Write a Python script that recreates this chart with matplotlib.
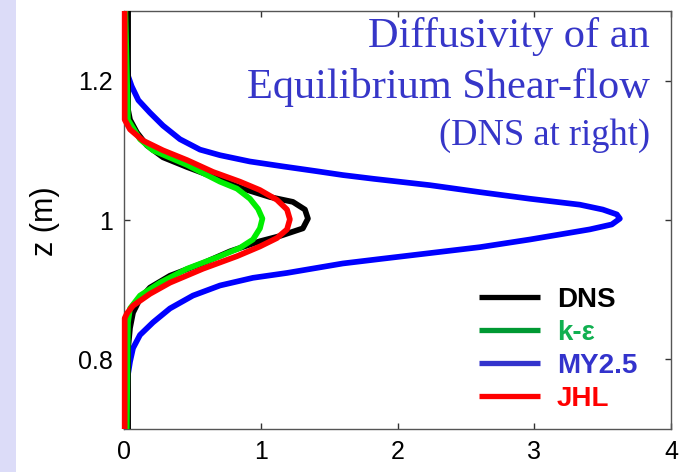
import matplotlib
matplotlib.use("Agg")
import matplotlib.pyplot as plt
from matplotlib.lines import Line2D
from matplotlib.patches import Rectangle

# ---- data (diffusivity vs height) ----
z_dns = [1.30, 1.158, 1.144, 1.1255, 1.107, 1.090, 1.076, 1.062, 1.045, 1.033,
         1.026, 1.015, 1.002, 0.988, 0.977, 0.9695, 0.955, 0.938, 0.920, 0.903,
         0.887, 0.867, 0.845, 0.816, 0.70]
k_dns = [0.03, 0.03, 0.044, 0.095, 0.168, 0.285, 0.461, 0.651, 0.870, 1.067,
         1.235, 1.323, 1.345, 1.308, 1.140, 0.994, 0.775, 0.577, 0.336, 0.190,
         0.117, 0.066, 0.044, 0.03, 0.03]

z_ke = [1.30, 1.144, 1.116, 1.100, 1.079, 1.055, 1.045, 1.0305, 1.016, 1.002,
        0.988, 0.972, 0.960, 0.948, 0.930, 0.910, 0.8915, 0.873, 0.853, 0.70]
k_ke = [0.01, 0.029, 0.117, 0.212, 0.461, 0.702, 0.826, 0.921, 0.980, 1.012,
        0.994, 0.943, 0.848, 0.702, 0.461, 0.263, 0.117, 0.044, 0.029, 0.02]

z_my = [1.30, 1.225, 1.206, 1.192, 1.172, 1.154, 1.1355, 1.116, 1.101, 1.093,
        1.084, 1.077, 1.070, 1.0645, 1.059, 1.050, 1.040, 1.0305, 1.022, 1.015,
        1.008, 1.002, 0.9936, 0.9865, 0.972, 0.961, 0.9525, 0.944, 0.9376, 0.924,
        0.917, 0.906, 0.8915, 0.873, 0.853, 0.835, 0.816, 0.7965, 0.778, 0.760, 0.70]
k_my = [0.02, 0.024, 0.031, 0.056, 0.105, 0.190, 0.285, 0.409, 0.556, 0.702,
        0.92, 1.16, 1.41, 1.60, 1.83, 2.237, 2.602, 2.968, 3.333, 3.501,
        3.604, 3.626, 3.567, 3.406, 2.968, 2.602, 2.237, 1.871, 1.60, 1.192,
        0.943, 0.702, 0.504, 0.336, 0.212, 0.117, 0.066, 0.044, 0.029, 0.022, 0.02]

z_jhl = [1.30, 1.144, 1.130, 1.114, 1.100, 1.086, 1.069, 1.055, 1.043, 1.029,
         1.015, 1.001, 0.9865, 0.974, 0.962, 0.948, 0.930, 0.910, 0.894, 0.877,
         0.866, 0.859, 0.70]
k_jhl = [0.005, 0.005, 0.044, 0.139, 0.285, 0.461, 0.651, 0.848, 0.994, 1.118,
         1.192, 1.213, 1.192, 1.118, 0.994, 0.826, 0.577, 0.336, 0.190, 0.066,
         0.022, 0.005, 0.005]

series_names = ["DNS", "k-ε", "MY2.5", "JHL"]
xticks = [0, 1, 2, 3, 4]
yticks = [0.8, 1.0, 1.2]
ytick_labels = ["0.8", "1", "1.2"]

plt.rcParams['font.family'] = ['Liberation Sans', 'DejaVu Sans']

fig = plt.figure(figsize=(6.93, 4.72), dpi=100)
fig.patch.set_facecolor('white')
fig.add_artist(Rectangle((0, 0), 16 / 693, 1, transform=fig.transFigure,
                         facecolor='#dcdcf8', edgecolor='none', zorder=0))

ax = fig.add_axes([124 / 693, 1 - 429 / 472, (671 - 124) / 693, (429 - 11) / 472])

lw = 4.1
kw = dict(lw=lw, solid_joinstyle='round', solid_capstyle='butt')
ax.plot(k_my, z_my, color='#0000ff', zorder=2, **kw)
ax.plot(k_dns, z_dns, color='black', zorder=3, **kw)
ax.plot(k_ke, z_ke, color='#00ee00', zorder=4, **kw)
ax.plot(k_jhl, z_jhl, color='#ff0000', zorder=5, clip_on=False, **kw)

ax.set_xlim(0, 4)
ax.set_ylim(0.7, 1.3)
ax.set_xticks(xticks)
ax.set_xticklabels([str(t) for t in xticks])
ax.set_yticks(yticks)
ax.set_yticklabels(ytick_labels)
ax.tick_params(direction='in', length=4, width=1, color='#333333', labelsize=18,
               top=True, right=True, pad=8)
for s in ax.spines.values():
    s.set_color('#555555')
    s.set_linewidth(1.0)

fig.text(45 / 693, 1 - 221 / 472, "z (m)", rotation=90, fontsize=22,
         ha='center', va='center')

# Title overlay
tc = '#3636c8'
fig.text(650 / 693, 1 - 47 / 472, "Diffusivity of an", family='Liberation Serif',
         fontsize=30.5, color=tc, ha='right', va='baseline')
fig.text(650 / 693, 1 - 98 / 472, "Equilibrium Shear-flow", family='Liberation Serif',
         fontsize=30.5, color=tc, ha='right', va='baseline')
fig.text(650 / 693, 1 - 145 / 472, "(DNS at right)", family='Liberation Serif',
         fontsize=26.3, color=tc, ha='right', va='baseline')

# Legend overlay
leg_line_colors = ['black', '#009933', '#3333cc', '#ff0000']
leg_text_colors = ['black', '#10b050', '#3333cc', '#ff0000']
rows_py = [297, 330, 363, 396]
for name, lc, tcol, py in zip(series_names, leg_line_colors, leg_text_colors, rows_py):
    yf = 1 - py / 472
    fig.add_artist(Line2D([479 / 693, 540 / 693], [yf, yf], transform=fig.transFigure,
                          color=lc, lw=3.8, solid_capstyle='butt', zorder=10))
    fig.text(557 / 693, yf, name, fontsize=20, fontweight='bold', color=tcol,
             ha='left', va='center_baseline', zorder=10)

fig.savefig('out.png', dpi=100)
